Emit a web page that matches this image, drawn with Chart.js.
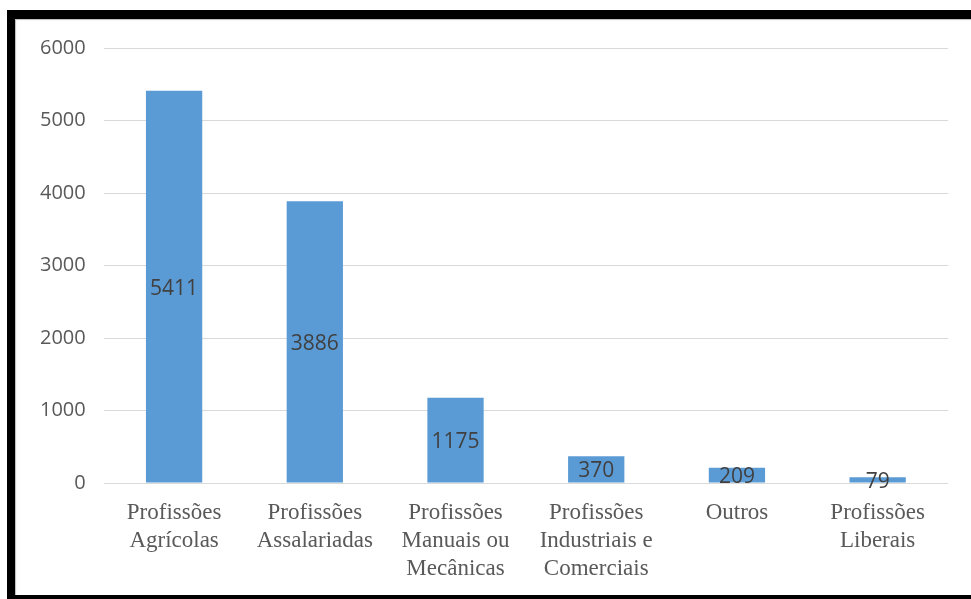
<!DOCTYPE html>
<html lang="pt">
<head>
<meta charset="utf-8">
<script src="https://cdn.jsdelivr.net/npm/chart.js@4/dist/chart.umd.min.js"></script>
<style>
    html, body { margin: 0; padding: 0; background: #fff; overflow: hidden; }
    body { width: 971px; height: 599px; position: relative; }
    /* moldura preta à volta do gráfico */
    .moldura {
        position: absolute; left: 7px; top: 10px;
        width: 990px; height: 576px;
        border-left: 8px solid #000; border-top: 9px solid #000; border-bottom: 9px solid #000;
        box-shadow: inset 1px 1px 1px #bbb;
    }
    #grafico { position: absolute; left: 0; top: 0; }
</style>
</head>
<body>
<div class="moldura"></div>
<canvas id="grafico" width="971" height="599"></canvas>
<script>
// Categorias de profissão e número de indivíduos
const categorias = [
    ['Profissões', 'Agrícolas'],
    ['Profissões', 'Assalariadas'],
    ['Profissões', 'Manuais ou', 'Mecânicas'],
    ['Profissões', 'Industriais e', 'Comerciais'],
    'Outros',
    ['Profissões', 'Liberais']
];
const valores = [5411, 3886, 1175, 370, 209, 79];
const ticksY = [0, 1000, 2000, 3000, 4000, 5000, 6000];

// Rótulos de valor desenhados no centro de cada barra
const rotulosValor = {
    id: 'rotulosValor',
    afterDatasetsDraw(chart) {
        const ctx = chart.ctx;
        const meta = chart.getDatasetMeta(0);
        ctx.save();
        ctx.font = '21px "Open Sans"';
        ctx.fillStyle = '#404040';
        ctx.textAlign = 'center';
        ctx.textBaseline = 'middle';
        meta.data.forEach((barra, i) => {
            const y = (barra.y + barra.base) / 2;
            ctx.fillText(valores[i], barra.x, y + 2);
        });
        ctx.restore();
    }
};

new Chart(document.getElementById('grafico').getContext('2d'), {
    type: 'bar',
    data: {
        labels: categorias,
        datasets: [{
            data: valores,
            backgroundColor: '#5B9BD5',
            borderWidth: 0,
            categoryPercentage: 1,
            barPercentage: 0.4
        }]
    },
    options: {
        responsive: false,
        animation: false,
        devicePixelRatio: 1,
        layout: { padding: { left: 22, right: 23, top: 48, bottom: 0 } },
        plugins: {
            legend: { display: false },
            tooltip: { enabled: false }
        },
        scales: {
            y: {
                min: 0,
                max: 6000,
                afterBuildTicks: (eixo) => { eixo.ticks = ticksY.map(v => ({ value: v })); },
                grid: { color: '#d9d9d9', lineWidth: 1, drawTicks: false },
                border: { display: false },
                ticks: {
                    color: '#595959',
                    font: { family: '"Open Sans"', size: 20 },
                    padding: 18,
                    callback: (v) => String(v)
                }
            },
            x: {
                grid: { display: false, drawTicks: false },
                border: { display: false },
                ticks: {
                    color: '#595959',
                    font: { family: '"Liberation Serif"', size: 23, lineHeight: '28px' },
                    padding: 16,
                    maxRotation: 0,
                    autoSkip: false
                }
            }
        }
    },
    plugins: [rotulosValor]
});
</script>
</body>
</html>
